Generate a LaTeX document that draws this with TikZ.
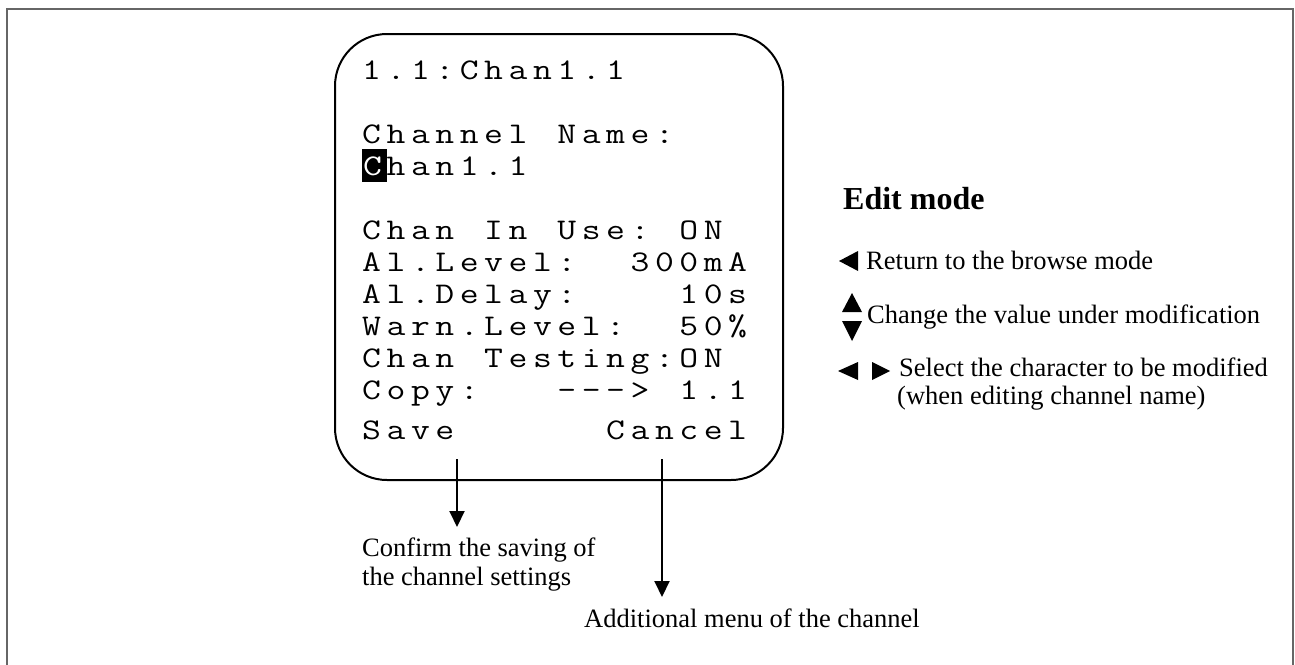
\documentclass[tikz,border=0pt]{standalone}
\usepackage{fontspec}
\usepackage{graphicx}
\setmainfont{Liberation Serif}
\usetikzlibrary{arrows.meta}

% fixed character pitch of the display; glyphs widened to a Courier-like width
\newlength\lcdpitch
\setlength\lcdpitch{24.4pt}
\newcommand\lcdglyph[1]{\scalebox{1.22}[1]{#1}}
\makeatletter
\newcommand\lcdcell[1]{\makebox[\lcdpitch][l]{\lcdglyph{#1}}}
% one display row; '*' stands for a blank cell
\def\lcdrow#1{\lcd@next#1\@nil}
\def\lcd@next#1{\ifx#1\@nil\else\ifx#1*\lcdcell{}\else\lcdcell{#1}\fi\expandafter\lcd@next\fi}
\makeatother
% inverted (cursor) cell
\newcommand\lcdinv[1]{\makebox[\lcdpitch][l]{\rlap{\rule[-7pt]{\lcdpitch}{33pt}}\hspace{1pt}\textcolor{white}{\lcdglyph{#1}}}}

\tikzset{
  lcd/.style={anchor=base west, inner sep=0pt, font=\ttfamily\fontsize{30}{30}\selectfont},
  note/.style={anchor=base west, inner sep=0pt, font=\fontsize{26.5}{29}\selectfont},
  heading/.style={anchor=base west, inner sep=0pt, font=\bfseries\fontsize{32}{34}\selectfont},
  screen/.style={draw=black, line width=2pt, rounded corners=52pt},
  frame/.style={draw=black!60, line width=2pt},
  pointer/.style={line width=2pt, -{Triangle[width=15pt,length=16pt]}},
  key/.style={fill=black, draw=none},
}

\begin{document}
\begin{tikzpicture}[x=1pt, y=-1pt]
\useasboundingbox (0,0) rectangle (1295,664);
\fill[white] (0,0) rectangle (1295,664);

% outer frame, open at the bottom
\draw[frame] (7,670) -- (7,9) -- (1293,9) -- (1293,670);

% display outline
\draw[screen] (335,34) rectangle (783,480);

% display rows
\node[lcd] (r1)  at (362,79)  {\lcdrow{1.1:Chan1.1}};
\node[lcd] (r2)  at (362,143) {\lcdrow{Channel*Name:}};
\node[lcd] (r3)  at (362,175) {\lcdinv{C}\lcdrow{han1.1}};
\node[lcd] (r4)  at (362,239) {\lcdrow{Chan*In*Use:*ON}};
\node[lcd] (r5)  at (362,271) {\lcdrow{Al.Level:**300mA}};
\node[lcd] (r6)  at (362,303) {\lcdrow{Al.Delay:****10s}};
\node[lcd] (r7)  at (362,335) {\lcdrow{Warn.Level:**50\%}};
\node[lcd] (r8)  at (362,367) {\lcdrow{Chan*Testing:ON}};
\node[lcd] (r9)  at (362,399) {\lcdrow{Copy:***--->*1.1}};
\node[lcd] (save)   at (362,439) {\lcdrow{Save}};
\node[lcd] (cancel) at (606,439) {\lcdrow{Cancel}};

% soft-key arrows
\coordinate (saveFrom)   at (457,459);
\coordinate (saveTo)     at (457,527);
\coordinate (cancelFrom) at (662,459);
\coordinate (cancelTo)   at (662,597);
\draw[pointer] (saveFrom) -- (saveTo);
\draw[pointer] (cancelFrom) -- (cancelTo);

\node[note] (confirmA) at (362,556) {Confirm the saving of};
\node[note] (confirmB) at (362,585) {the channel settings};
\node[note] (menu)     at (584,627) {Additional menu of the channel};

% key legend
\node[heading] (title) at (843,209) {Edit mode};

\fill[key] (839,261) -- (858,251) -- (858,271) -- cycle;
\node[note] (ret) at (866,269) {Return to the browse mode};

\fill[key] (852,293) -- (842,312) -- (862,312) -- cycle;
\fill[key] (842,321) -- (862,321) -- (852,341) -- cycle;
\node[note] (chg) at (867,323) {Change the value under modification};

\fill[key] (838,371) -- (858,362) -- (858,380) -- cycle;
\fill[key] (872,362) -- (872,380) -- (890,371) -- cycle;
\node[note] (sel)  at (899,376) {Select the character to be modified};
\node[note] (selB) at (897,404) {(when editing channel name)};
\end{tikzpicture}
\end{document}
